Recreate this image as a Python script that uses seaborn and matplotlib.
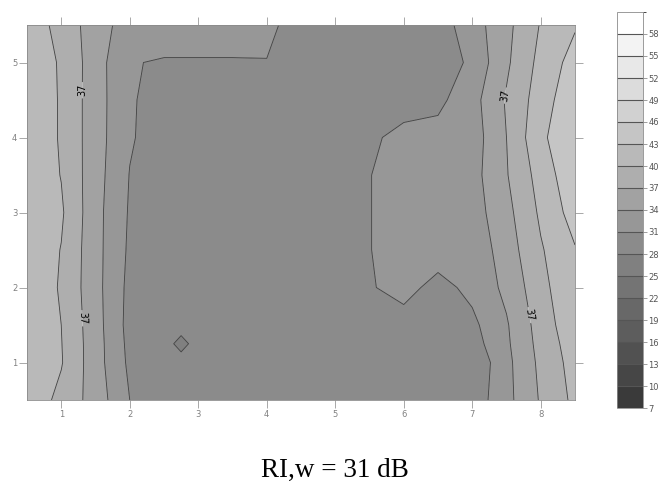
import numpy as np
import matplotlib
matplotlib.use("Agg")
import matplotlib.pyplot as plt
import seaborn as sns
from matplotlib.colors import ListedColormap, BoundaryNorm

x_nodes = [0.5, 1.0, 1.5, 2.0, 2.5, 2.75, 3.0, 3.5, 4.0, 4.5, 5.0, 5.5, 6.0, 6.5, 7.0, 7.5, 8.0, 8.5]
y_nodes = [0.5, 1.0, 1.25, 1.5, 2.0, 2.5, 3.0, 3.5, 4.0, 4.5, 5.0, 5.5]

row_y050 = [42.0, 39.2, 35.7, 31.0, 29.5, 29.5, 29.5, 29.5, 29.5, 29.5, 29.5, 29.5, 29.5, 29.5, 29.2, 33.1, 37.3, 40.7]
row_y100 = [42.2, 40.2, 35.3, 30.4, 29.5, 29.3, 28.3, 29.5, 29.5, 29.5, 29.5, 29.5, 29.5, 29.5, 28.5, 33.2, 37.7, 41.2]
row_y125 = [42.3, 40.1, 35.3, 30.2, 29.3, 27.0, 29.3, 29.5, 29.5, 29.5, 29.5, 29.5, 29.5, 29.5, 29.7, 33.5, 38.0, 41.6]
row_y150 = [42.3, 40.0, 35.2, 30.0, 28.3, 29.3, 29.5, 29.5, 29.5, 29.5, 29.5, 29.5, 29.8, 29.6, 30.3, 33.7, 38.3, 42.2]
row_y200 = [42.3, 39.7, 35.0, 30.2, 29.5, 29.5, 29.5, 29.5, 29.5, 29.5, 29.5, 30.75, 32.0, 30.0, 31.8, 34.7, 39.0, 42.7]
row_y250 = [42.3, 39.9, 35.0, 30.5, 29.5, 29.5, 29.5, 29.5, 29.5, 29.5, 29.5, 30.9, 32.5, 32.5, 31.9, 35.5, 39.7, 42.8]
row_y300 = [42.5, 40.4, 35.0, 30.7, 29.5, 29.5, 29.5, 29.5, 29.5, 29.5, 29.5, 30.9, 32.5, 32.5, 32.6, 36.1, 40.5, 44.3]
row_y350 = [42.3, 39.9, 35.2, 30.9, 29.5, 29.5, 29.5, 29.5, 29.5, 29.5, 29.5, 30.9, 32.5, 32.5, 32.9, 36.8, 41.2, 45.3]
row_y400 = [42.4, 39.7, 35.3, 31.3, 29.5, 29.5, 29.5, 29.5, 29.5, 29.5, 29.5, 30.4, 32.0, 32.0, 32.5, 37.0, 42.4, 45.5]
row_y450 = [42.4, 39.7, 35.3, 31.4, 29.5, 29.5, 29.5, 29.5, 29.5, 29.5, 29.5, 29.5, 29.5, 30.3, 32.9, 37.3, 41.5, 45.3]
row_y500 = [42.5, 39.6, 35.4, 31.1, 30.85, 30.85, 30.85, 30.85, 30.9, 29.5, 29.5, 29.5, 29.5, 29.0, 31.7, 36.5, 40.9, 44.2]
row_y550 = [42.0, 38.9, 35.5, 32.5, 32.0, 32.0, 32.0, 32.0, 31.8, 29.5, 29.5, 29.5, 29.5, 29.6, 32.6, 36.2, 40.2, 42.7]

levels = list(range(7, 62, 3))
label_level = 37
label_spots = [(1.31, 4.63), (1.31, 1.59), (7.47, 4.56), (7.82, 1.63)]
x_ticks = [1, 2, 3, 4, 5, 6, 7, 8]
y_ticks = [1, 2, 3, 4, 5]
caption = "RI,w = 31 dB"

sns.set_style("white")

Z = np.array([row_y050, row_y100, row_y125, row_y150, row_y200, row_y250,
              row_y300, row_y350, row_y400, row_y450, row_y500, row_y550])
X, Y = np.meshgrid(x_nodes, y_nodes)

greys = sns.blend_palette(["#3a3a3a", "#ffffff"], n_colors=len(levels) - 1)
cmap = ListedColormap(greys)
norm = BoundaryNorm(levels, cmap.N)

fig = plt.figure(figsize=(6.6, 4.84), dpi=100)
ax = fig.add_axes([27 / 660, 1 - 400 / 484, 548 / 660, 375 / 484])

cf = ax.contourf(X, Y, Z, levels=levels, cmap=cmap, norm=norm, antialiased=True)
other_levels = [lv for lv in levels if lv != label_level]
ax.contour(X, Y, Z, levels=other_levels, colors="#3c3c3c", linewidths=0.6)
cs37 = ax.contour(X, Y, Z, levels=[label_level], colors="#3c3c3c", linewidths=0.6)
ax.clabel(cs37, manual=label_spots, inline=True, inline_spacing=2,
          fontsize=7, fmt="%d", colors="black")

ax.set_xlim(0.5, 8.5)
ax.set_ylim(0.5, 5.5)
ax.set_xticks(x_ticks)
ax.set_yticks(y_ticks)
ax.tick_params(axis="both", which="both", direction="out", length=6, width=0.6,
               color="#9a9a9a", labelsize=6, labelcolor="#808080",
               top=True, right=True, bottom=True, left=True, pad=1)
for sp in ax.spines.values():
    sp.set_color("#8a8a8a")
    sp.set_linewidth(0.6)

cax = fig.add_axes([617 / 660, 1 - 408 / 484, 26 / 660, 396 / 484])
cb = fig.colorbar(cf, cax=cax, ticks=levels[:-1], drawedges=True)
cb.outline.set_edgecolor("#8a8a8a")
cb.outline.set_linewidth(0.6)
cb.dividers.set_color("#555555")
cb.dividers.set_linewidth(0.8)
cax.tick_params(labelsize=6, labelcolor="#555555", length=3, width=0.5,
                color="#777777", pad=1)

fig.text(335 / 660, 1 - 477 / 484, caption, ha="center", va="baseline",
         fontsize=19.5, family="Liberation Serif", color="black")

fig.savefig("out.png", dpi=100)
